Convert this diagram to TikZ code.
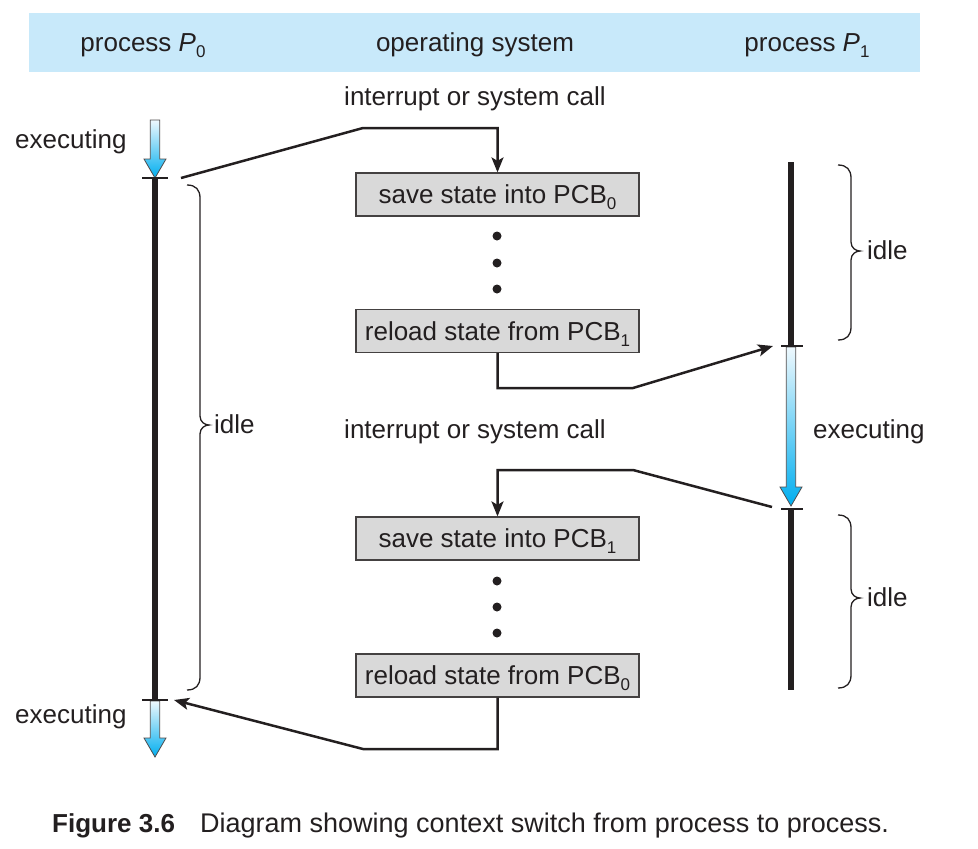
\documentclass[tikz,border=0pt]{standalone}
\usepackage{fontspec}
\setmainfont{Liberation Sans}
\usetikzlibrary{arrows.meta}
\definecolor{ink}{HTML}{231F20}
\definecolor{band}{HTML}{C8E9FA}
\definecolor{boxgray}{HTML}{D9D9D9}
\definecolor{lightb}{HTML}{EEF8FD}
\definecolor{deepb}{HTML}{00AEEF}
\newcommand\sbs[1]{\raisebox{-0.22em}{\fontsize{17}{17}\selectfont #1}}
\newcommand\execshape[3]{(#1-4.7,#2) -- (#1+4.7,#2) -- (#1+4.7,#3-19) -- (#1+11,#3-19) -- (#1,#3) -- (#1-11,#3-19) -- (#1-4.7,#3-19) -- cycle}
\newcommand\bracepath[4]{(#1,#2) .. controls (#1+9,#2) and (#1+13,#2+5) .. (#1+13,#2+13) -- (#1+13,#4-9) .. controls (#1+13,#4-3) and (#1+18,#4) .. (#1+22,#4) .. controls (#1+18,#4) and (#1+13,#4+3) .. (#1+13,#4+9) -- (#1+13,#3-13) .. controls (#1+13,#3-5) and (#1+9,#3) .. (#1,#3)}
\begin{document}
\begin{tikzpicture}[x=1pt,y=-1pt,
 lbl/.style={font=\fontsize{26}{30}\selectfont, text=ink, inner sep=0pt, text height=18.7pt, text depth=0pt},
 statebox/.style={lbl, draw=ink!85, fill=boxgray, line width=1.2pt, minimum width=283pt, minimum height=43pt},
 conn/.style={draw=ink, line width=2.5pt},
 tip/.style={-{Stealth[length=15pt,width=12pt,inset=3.5pt]}},
 lifeline/.style={draw=ink, line width=6.5pt},
 tickmark/.style={draw=ink, line width=1.5pt},
 bracestyle/.style={draw=ink, line width=1.3pt},
 execarrow/.style={draw=ink!80, line width=0.8pt, top color=lightb, bottom color=deepb},
 dotmark/.style={fill=ink, circle, inner sep=0pt, minimum size=9pt}
]
\useasboundingbox (0,0) rectangle (978,849);
% header band
\fill[band] (29,13) rectangle (920,72);
\node[lbl] (hp0) at (143,42) {process \textit{P}\sbs{0}};
\node[lbl] (hos) at (475,42) {operating system};
\node[lbl] (hp1) at (807,42) {process \textit{P}\sbs{1}};

% OS boxes
\node[statebox] (s0) at (497.5,194.5) {save state into PCB\sbs{0}};
\node[statebox] (r1) at (497.5,331) {reload state from PCB\sbs{1}};
\node[statebox] (s1) at (497.5,538.5) {save state into PCB\sbs{1}};
\node[statebox] (r0) at (497.5,675.5) {reload state from PCB\sbs{0}};
\node[dotmark] (d1) at (497,236) {};
\node[dotmark] (d2) at (497,263) {};
\node[dotmark] (d3) at (497,289) {};
\node[dotmark] (d4) at (497,581) {};
\node[dotmark] (d5) at (497,607) {};
\node[dotmark] (d6) at (497,633) {};

\node[lbl] (int1) at (475,96) {interrupt or system call};
\node[lbl] (int2) at (475,429) {interrupt or system call};

% process P0 lifeline
\draw[lifeline] (155,178) -- (155,700);
\path[execarrow] \execshape{155}{120}{178};
\path[execarrow] \execshape{155}{701}{757};
\draw[tickmark] (142,178) -- (168,178);
\draw[tickmark] (142,700) -- (168,700);
\node[lbl, anchor=west] (ex0a) at (15,139) {executing};
\node[lbl, anchor=west] (ex0b) at (15,714) {executing};
\draw[bracestyle] \bracepath{187}{185}{690}{425};
\node[lbl, anchor=west] (idle0) at (214,424) {idle};

% process P1 lifeline
\draw[lifeline] (791,162) -- (791,346);
\draw[lifeline] (791,509) -- (791,690);
\path[execarrow] \execshape{791}{347}{506};
\draw[tickmark] (781,346) -- (803,346);
\draw[tickmark] (781,509) -- (803,509);
\node[lbl, anchor=west] (ex1) at (813,429) {executing};
\draw[bracestyle] \bracepath{838}{165}{340}{251};
\node[lbl, anchor=west] (idle1a) at (867,250) {idle};
\draw[bracestyle] \bracepath{838}{515}{688}{598};
\node[lbl, anchor=west] (idle1b) at (867,597) {idle};

% connectors
\coordinate (p0top) at (181,178);
\coordinate (k1) at (363,128);
\draw[conn, tip] (p0top) -- (k1) -- (k1 -| s0.north) -- (s0.north);

\coordinate (k2) at (633,388);
\coordinate (p1a) at (773,346);
\draw[conn, tip] (r1.south) -- (r1.south |- k2) -- (k2) -- (p1a);

\coordinate (p1b) at (772,507);
\coordinate (k3) at (633,470);
\draw[conn, tip] (p1b) -- (k3) -- (k3 -| s1.north) -- (s1.north);

\coordinate (k4) at (363,749);
\coordinate (p0b) at (174,700);
\draw[conn, tip] (r0.south) -- (r0.south |- k4) -- (k4) -- (p0b);

% caption
\node[lbl, anchor=west] (fig) at (52,823) {\bfseries Figure 3.6};
\node[lbl, anchor=west, font=\fontsize{27}{31}\selectfont] (cap) at (200,823) {Diagram showing context switch from process to process.};
\end{tikzpicture}
\end{document}
